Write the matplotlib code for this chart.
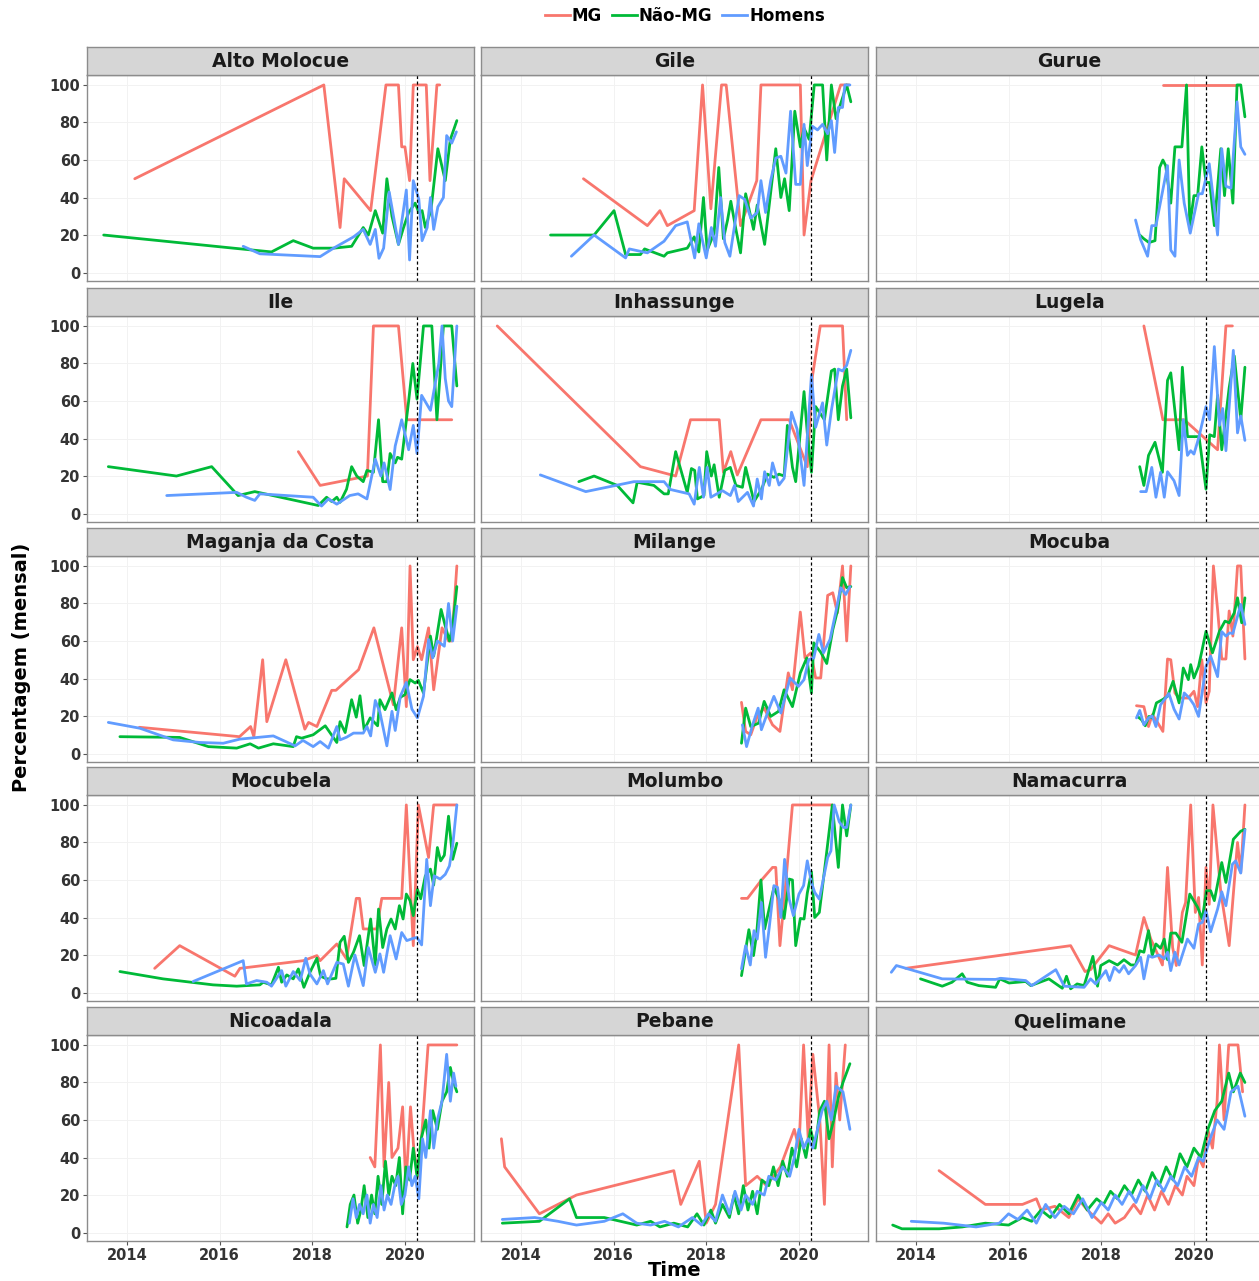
import matplotlib
matplotlib.use("Agg")
import matplotlib.pyplot as plt
from matplotlib.lines import Line2D

plt.rcParams['font.family'] = ['DejaVu Sans']

# | Data: (decimal year, percentage) per group |---------------------------------------------------------------------|
SERIES = ["MG", "Não-MG", "Homens"]
COLORS = {"MG": "#F8766D", "Não-MG": "#00BA38", "Homens": "#619CFF"}
LOCKDOWN = 2020.25
X_TICKS = [2014, 2016, 2018, 2020]
Y_TICKS = [0, 20, 40, 60, 80, 100]

ALTO_MOLOCUE = {
    "MG": [(2014.17, 50), (2018.25, 100), (2018.6, 24), (2018.69, 50), (2019.26, 33), (2019.59, 100), (2019.86, 100),
           (2019.93, 67), (2020.0, 67), (2020.1, 49), (2020.18, 100), (2020.46, 100), (2020.54, 49), (2020.69, 100),
           (2020.75, 100)],
    "Não-MG": [(2013.5, 20), (2016.3, 13), (2017.12, 11), (2017.59, 17), (2018.02, 13), (2018.46, 13), (2018.85, 14),
               (2019.1, 24), (2019.21, 20), (2019.36, 33), (2019.52, 21), (2019.61, 50), (2019.72, 30), (2019.86, 15),
               (2019.97, 24), (2020.08, 32), (2020.22, 37), (2020.3, 32), (2020.37, 33), (2020.44, 24), (2020.56, 33),
               (2020.71, 66), (2020.87, 49), (2020.98, 71), (2021.12, 81)],
    "Homens": [(2016.51, 14), (2016.87, 10), (2018.17, 8.5), (2018.46, 13), (2018.89, 19), (2019.1, 23), (2019.25, 15),
               (2019.36, 23), (2019.44, 7.6), (2019.54, 13), (2019.66, 43), (2019.86, 15), (2020.03, 44), (2020.1, 6.7),
               (2020.18, 49), (2020.3, 39), (2020.37, 17), (2020.48, 24), (2020.55, 40), (2020.62, 23), (2020.71, 35),
               (2020.83, 40), (2020.9, 73), (2021.01, 69), (2021.11, 75)],
}

GILE = {
    "MG": [(2015.35, 50), (2016.73, 25), (2017.0, 33), (2017.16, 25), (2017.74, 33), (2017.92, 100), (2018.1, 34),
           (2018.33, 100), (2018.43, 100), (2018.74, 25), (2019.09, 49), (2019.18, 100), (2020.03, 100), (2020.11, 20),
           (2020.26, 49), (2020.9, 100), (2021.08, 100)],
    "Não-MG": [(2014.64, 20), (2015.58, 20), (2016.01, 33), (2016.26, 9.6), (2016.58, 9.6), (2016.67, 12.6),
               (2017.09, 8.7), (2017.16, 10.5), (2017.59, 13), (2017.74, 19), (2017.84, 11), (2017.94, 40), (2018.02, 12),
               (2018.17, 21), (2018.27, 56), (2018.37, 18), (2018.46, 28), (2018.53, 38), (2018.64, 23), (2018.74, 10.5),
               (2018.85, 42), (2019.02, 23), (2019.1, 36), (2019.26, 15), (2019.5, 66), (2019.61, 40), (2019.69, 50),
               (2019.79, 33), (2019.91, 86), (2020.03, 67), (2020.11, 77), (2020.22, 71), (2020.33, 100), (2020.51, 100),
               (2020.6, 60), (2020.7, 100), (2020.8, 82), (2020.9, 90), (2021.03, 100), (2021.12, 91)],
    "Homens": [(2015.09, 8.7), (2015.58, 20), (2016.26, 7.8), (2016.34, 12.6), (2016.73, 10.5), (2017.09, 16.7),
               (2017.34, 25), (2017.59, 27), (2017.75, 7.8), (2017.84, 26), (2018.0, 7.8), (2018.11, 24), (2018.2, 14),
               (2018.31, 40), (2018.4, 16), (2018.51, 8.7), (2018.71, 41), (2018.83, 39), (2018.96, 29), (2019.1, 32),
               (2019.18, 49), (2019.28, 32), (2019.39, 49), (2019.5, 61), (2019.61, 62), (2019.72, 53), (2019.82, 86),
               (2019.93, 47), (2020.03, 47), (2020.11, 79), (2020.18, 57), (2020.29, 78), (2020.4, 76), (2020.51, 79),
               (2020.62, 74), (2020.7, 81), (2020.77, 64), (2020.85, 88), (2020.94, 88), (2020.99, 100), (2021.1, 100)],
}

GURUE = {
    "MG": [(2019.33, 100), (2020.94, 100)],
    "Não-MG": [(2018.83, 20), (2018.92, 18), (2019.03, 16), (2019.16, 17), (2019.26, 56), (2019.33, 60), (2019.39, 57),
               (2019.5, 37), (2019.59, 67), (2019.74, 67), (2019.84, 100), (2019.91, 25), (2020.0, 41), (2020.08, 41),
               (2020.17, 67), (2020.26, 48), (2020.34, 48), (2020.44, 25), (2020.58, 66), (2020.66, 41), (2020.74, 66),
               (2020.84, 37), (2020.93, 100), (2021.01, 100), (2021.1, 83)],
    "Homens": [(2018.74, 28), (2018.85, 17.5), (2019.0, 8.7), (2019.09, 25), (2019.18, 25), (2019.43, 57), (2019.5, 12),
               (2019.59, 8.7), (2019.68, 60), (2019.79, 37), (2019.92, 21), (2020.1, 42), (2020.18, 42), (2020.33, 58),
               (2020.51, 20), (2020.6, 66), (2020.69, 46), (2020.8, 45), (2020.93, 91), (2021.01, 67), (2021.1, 63)],
}

ILE = {
    "MG": [(2017.7, 33), (2018.17, 15), (2019.19, 20), (2019.32, 100), (2019.86, 100), (2020.04, 50), (2021.01, 50)],
    "Não-MG": [(2013.6, 25), (2015.07, 20), (2015.83, 25), (2016.4, 9.6), (2016.76, 11.7), (2018.13, 4.3),
               (2018.31, 8.7), (2018.42, 6.4), (2018.53, 8.7), (2018.6, 6), (2018.74, 13), (2018.85, 25), (2018.96, 20),
               (2019.1, 17), (2019.18, 23), (2019.32, 22), (2019.43, 50), (2019.52, 17), (2019.61, 17), (2019.68, 32),
               (2019.79, 27), (2019.84, 30), (2019.93, 29), (2020.08, 60), (2020.17, 80), (2020.26, 61), (2020.4, 100),
               (2020.58, 100), (2020.69, 50), (2020.83, 100), (2021.01, 100), (2021.12, 68)],
    "Homens": [(2014.86, 9.6), (2016.37, 11.3), (2016.58, 8.7), (2016.76, 7), (2016.87, 10.5), (2018.02, 8.7),
               (2018.2, 4), (2018.35, 7.8), (2018.53, 5), (2018.81, 9.6), (2018.99, 10.5), (2019.18, 7.8), (2019.36, 29),
               (2019.48, 20), (2019.55, 27), (2019.68, 12.8), (2019.79, 36), (2019.93, 50), (2020.08, 34), (2020.18, 47),
               (2020.26, 32), (2020.36, 63), (2020.55, 55), (2020.73, 80), (2020.8, 100), (2020.87, 72), (2020.94, 60),
               (2021.01, 57), (2021.12, 100)],
}

INHASSUNGE = {
    "MG": [(2013.49, 100), (2016.58, 25), (2017.34, 20), (2017.66, 50), (2018.28, 50), (2018.37, 22), (2018.53, 33),
           (2018.67, 20.6), (2019.18, 50), (2019.79, 50), (2020.18, 25), (2020.29, 73), (2020.46, 100), (2020.94, 100),
           (2021.03, 50)],
    "Não-MG": [(2015.25, 17), (2015.58, 20), (2016.08, 15), (2016.42, 5.7), (2016.51, 16.7), (2016.87, 15),
               (2017.09, 10.5), (2017.18, 10.5), (2017.34, 33), (2017.59, 11.3), (2017.68, 24), (2017.75, 23),
               (2017.81, 7.8), (2017.95, 9.6), (2018.01, 33), (2018.11, 20), (2018.17, 26), (2018.28, 8.7), (2018.4, 23),
               (2018.52, 24.6), (2018.64, 15), (2018.78, 14), (2018.85, 24.6), (2019.03, 6.4), (2019.19, 12.8),
               (2019.32, 21), (2019.46, 19.3), (2019.57, 21), (2019.68, 20), (2019.75, 47), (2019.86, 24.6),
               (2019.93, 17), (2020.11, 65), (2020.18, 43), (2020.27, 22), (2020.36, 57), (2020.55, 50), (2020.7, 76),
               (2020.77, 77), (2020.85, 50), (2020.94, 68), (2021.03, 77), (2021.12, 51)],
    "Homens": [(2014.42, 20.6), (2015.4, 11.7), (2016.44, 17), (2017.09, 17), (2017.23, 12.8), (2017.63, 10.5),
               (2017.74, 5), (2017.85, 24.6), (2017.94, 8.7), (2018.02, 24.6), (2018.1, 8.7), (2018.35, 12.2),
               (2018.52, 9.6), (2018.61, 15), (2018.69, 6.4), (2018.89, 11.3), (2019.02, 4), (2019.1, 18.4),
               (2019.19, 7.8), (2019.26, 22.3), (2019.36, 15), (2019.43, 27), (2019.57, 15.2), (2019.68, 18.8),
               (2019.84, 54), (2019.96, 45), (2020.11, 15), (2020.27, 74), (2020.36, 46), (2020.51, 59), (2020.6, 36.5),
               (2020.7, 55), (2020.85, 77), (2020.94, 76), (2021.03, 79), (2021.12, 87)],
}

LUGELA = {
    "MG": [(2018.92, 100), (2019.33, 50), (2019.79, 50), (2020.51, 34), (2020.69, 100), (2020.83, 100)],
    "Não-MG": [(2018.83, 25), (2018.92, 15), (2019.02, 31), (2019.16, 38), (2019.32, 22), (2019.43, 71), (2019.5, 75),
               (2019.68, 34), (2019.75, 78), (2019.86, 41), (2020.11, 41), (2020.26, 13), (2020.34, 42), (2020.44, 41),
               (2020.51, 63), (2020.6, 34), (2020.76, 67), (2020.87, 84), (2021.01, 50), (2021.1, 78)],
    "Homens": [(2018.85, 11.7), (2018.97, 11.7), (2019.09, 24.6), (2019.18, 8.7), (2019.28, 22), (2019.36, 8.7),
               (2019.43, 22.3), (2019.57, 17.5), (2019.68, 9.6), (2019.77, 50), (2019.86, 31), (2019.93, 33.5),
               (2020.0, 31.7), (2020.11, 41), (2020.26, 57), (2020.34, 50), (2020.44, 89), (2020.55, 47), (2020.62, 56),
               (2020.69, 33.5), (2020.85, 87), (2020.94, 43), (2021.01, 52), (2021.1, 39)],
}

MAGANJA_DA_COSTA = {
    "MG": [(2014.27, 14), (2016.43, 9), (2016.67, 14.4), (2016.74, 9), (2016.93, 50), (2017.02, 17), (2017.43, 50),
           (2017.84, 13), (2017.92, 16.6), (2018.1, 14.4), (2018.42, 33.7), (2018.51, 33.7), (2019.0, 44.7),
           (2019.33, 67), (2019.75, 26), (2019.93, 67), (2020.03, 25), (2020.11, 100), (2020.18, 50), (2020.27, 57),
           (2020.36, 50), (2020.51, 67), (2020.62, 34), (2020.8, 67), (2020.94, 60), (2021.01, 60), (2021.12, 100)],
    "Não-MG": [(2013.85, 9), (2015.14, 8.6), (2015.76, 3.7), (2016.37, 2.9), (2016.66, 5.2), (2016.84, 2.9),
               (2017.16, 5.2), (2017.59, 3.7), (2017.66, 9), (2017.77, 8.2), (2018.02, 10), (2018.28, 14.8),
               (2018.53, 5.9), (2018.6, 17), (2018.71, 11.2), (2018.85, 28.7), (2018.95, 19.4), (2019.03, 30.8),
               (2019.12, 12.6), (2019.25, 19), (2019.41, 14.8), (2019.46, 28.7), (2019.57, 23.4), (2019.72, 32.3),
               (2019.81, 23.4), (2019.9, 30), (2020.0, 31.4), (2020.11, 39.4), (2020.22, 37.6), (2020.29, 39),
               (2020.4, 32.3), (2020.55, 62.6), (2020.62, 52), (2020.78, 76.8), (2020.87, 68), (2020.96, 60),
               (2021.03, 68), (2021.12, 89)],
    "Homens": [(2013.6, 16.6), (2014.28, 13.5), (2015.0, 7.3), (2015.58, 5.9), (2016.08, 5.5), (2016.44, 7.7),
               (2017.16, 9.4), (2017.63, 4.1), (2017.8, 7), (2018.02, 3.7), (2018.17, 6.4), (2018.35, 2.9),
               (2018.53, 14.4), (2018.6, 7.3), (2018.74, 8.7), (2018.89, 10.9), (2019.1, 10.9), (2019.18, 14.4),
               (2019.26, 9.4), (2019.36, 28.3), (2019.46, 22), (2019.61, 4.1), (2019.72, 22.5), (2019.79, 12.3),
               (2019.9, 30.5), (2020.03, 37.9), (2020.15, 23.7), (2020.27, 19), (2020.4, 30.5), (2020.51, 60.8),
               (2020.6, 51), (2020.7, 60), (2020.85, 57.2), (2020.94, 80), (2021.03, 60), (2021.12, 78.6)],
}

MILANGE = {
    "MG": [(2018.76, 27.3), (2018.85, 11.8), (2018.96, 10), (2019.1, 19.8), (2019.25, 24.2), (2019.43, 15.3),
           (2019.59, 11.8), (2019.77, 43), (2019.86, 34), (2020.03, 75.4), (2020.13, 51), (2020.26, 53.7),
           (2020.36, 40.3), (2020.47, 40.3), (2020.62, 84.3), (2020.73, 85.7), (2020.83, 75), (2020.94, 100),
           (2021.03, 60), (2021.12, 100)],
    "Não-MG": [(2018.76, 5.5), (2018.85, 24.2), (2018.96, 14.4), (2019.13, 16.2), (2019.25, 27.8), (2019.39, 19.8),
               (2019.56, 22.5), (2019.68, 34), (2019.86, 25), (2020.03, 43), (2020.17, 51), (2020.27, 32.3),
               (2020.32, 59), (2020.47, 54), (2020.6, 48), (2020.73, 66), (2020.83, 76), (2020.94, 93.8),
               (2021.03, 88.4), (2021.12, 89)],
    "Homens": [(2018.78, 15.3), (2018.87, 3.7), (2019.0, 15.3), (2019.12, 24.2), (2019.19, 12.7), (2019.32, 21.6),
               (2019.46, 30.5), (2019.61, 21.6), (2019.81, 40.3), (2019.99, 35.8), (2020.11, 39.4), (2020.21, 50),
               (2020.32, 51), (2020.43, 63.5), (2020.53, 53.7), (2020.67, 60.8), (2020.8, 76), (2020.9, 88.4),
               (2021.01, 84.8), (2021.1, 89)],
}

MOCUBA = {
    "MG": [(2018.76, 25.5), (2018.92, 25), (2019.02, 14.4), (2019.1, 20.7), (2019.18, 18), (2019.33, 11.8),
           (2019.43, 50.4), (2019.5, 50), (2019.59, 32.3), (2019.68, 29.6), (2019.88, 29.6), (2020.0, 33.2),
           (2020.08, 25), (2020.17, 50), (2020.26, 27), (2020.33, 33.2), (2020.42, 100), (2020.51, 76.8),
           (2020.6, 50.4), (2020.69, 50.4), (2020.76, 76), (2020.84, 62.6), (2020.94, 100), (2021.01, 100),
           (2021.1, 50.4)],
    "Não-MG": [(2018.78, 19.8), (2018.87, 18), (2018.95, 14.8), (2019.03, 19.8), (2019.1, 19), (2019.19, 27),
               (2019.32, 28.7), (2019.43, 30.5), (2019.55, 38.5), (2019.68, 27), (2019.77, 45.6), (2019.88, 39.4),
               (2019.93, 47.4), (2020.0, 40.3), (2020.1, 46.5), (2020.17, 54.5), (2020.26, 65.2), (2020.4, 53.7),
               (2020.55, 65.2), (2020.67, 70.6), (2020.76, 69.7), (2020.87, 75), (2020.94, 83), (2021.03, 69.7),
               (2021.1, 83)],
    "Homens": [(2018.76, 19), (2018.83, 23), (2018.92, 15.3), (2019.02, 19), (2019.1, 20), (2019.18, 14.4),
               (2019.28, 26), (2019.46, 32), (2019.57, 23.7), (2019.68, 18.4), (2019.79, 32.3), (2019.9, 29.6),
               (2020.0, 26), (2020.1, 19.8), (2020.26, 46.5), (2020.36, 52), (2020.51, 41), (2020.6, 65),
               (2020.69, 62.6), (2020.77, 64.3), (2020.84, 64), (2021.01, 79.5), (2021.1, 68.8)],
}

MOCUBELA = {
    "MG": [(2014.6, 12.9), (2015.14, 25), (2016.33, 8.7), (2016.44, 12.9), (2017.81, 17), (2018.1, 19.7),
           (2018.17, 17), (2018.53, 25.9), (2018.74, 17.9), (2018.95, 50.2), (2019.02, 50.2), (2019.1, 33.9),
           (2019.39, 33.9), (2019.5, 50.2), (2019.93, 50.2), (2020.03, 100), (2020.18, 25), (2020.29, 100),
           (2020.51, 72), (2020.62, 100), (2021.12, 100)],
    "Não-MG": [(2013.85, 11.2), (2014.78, 7.3), (2015.86, 4.1), (2016.37, 3.4), (2016.87, 4.1), (2016.94, 5.5),
               (2017.12, 4.1), (2017.27, 13.5), (2017.34, 5.5), (2017.45, 9.4), (2017.59, 7.3), (2017.7, 12.6),
               (2017.82, 2.8), (2017.95, 10.8), (2018.1, 18.3), (2018.18, 8.7), (2018.31, 7.3), (2018.42, 7.3),
               (2018.51, 7.6), (2018.6, 26.8), (2018.69, 30), (2018.78, 16.1), (2018.89, 21.5), (2019.02, 30.3),
               (2019.12, 14.4), (2019.26, 39.2), (2019.36, 14.7), (2019.43, 44.5), (2019.52, 24), (2019.61, 33.9),
               (2019.7, 39.2), (2019.79, 33.9), (2019.88, 46.3), (2019.96, 39.2), (2020.03, 52.5), (2020.11, 49),
               (2020.18, 41), (2020.27, 55), (2020.34, 50), (2020.44, 62.2), (2020.55, 65.8), (2020.62, 57.3),
               (2020.7, 77.3), (2020.77, 70.2), (2020.85, 73.2), (2020.94, 94), (2021.03, 71), (2021.12, 79.6)],
    "Homens": [(2015.43, 5.9), (2016.51, 17), (2016.58, 4.6), (2016.8, 6.4), (2017.02, 5.5), (2017.12, 3.4),
               (2017.34, 11.7), (2017.43, 3.4), (2017.59, 11.2), (2017.74, 6.4), (2017.86, 18.3), (2017.95, 9.9),
               (2018.1, 4.6), (2018.24, 11.7), (2018.33, 4.6), (2018.53, 16.1), (2018.67, 15.2), (2018.78, 3.4),
               (2018.92, 20), (2019.1, 3.7), (2019.21, 24), (2019.36, 10.8), (2019.46, 20.6), (2019.54, 10.8),
               (2019.68, 30.3), (2019.81, 17.9), (2019.93, 32), (2020.04, 27.7), (2020.18, 28.9), (2020.26, 29.4),
               (2020.36, 25.4), (2020.47, 71), (2020.55, 46.3), (2020.63, 62.2), (2020.76, 60.5), (2020.87, 63),
               (2020.96, 67.5), (2021.03, 78.2), (2021.12, 100)],
}

MOLUMBO = {
    "MG": [(2018.76, 50.2), (2018.89, 50.2), (2019.18, 59.6), (2019.43, 66.7), (2019.5, 66.7), (2019.59, 25),
           (2019.71, 57), (2019.86, 100), (2020.72, 100)],
    "Não-MG": [(2018.76, 9), (2018.83, 19.7), (2018.92, 33.5), (2019.02, 19.7), (2019.09, 32), (2019.18, 60),
               (2019.26, 33.9), (2019.46, 56), (2019.57, 49.8), (2019.68, 39.5), (2019.79, 60.5), (2019.86, 60),
               (2019.93, 25), (2020.03, 39.5), (2020.11, 39.2), (2020.18, 53), (2020.27, 64.4), (2020.34, 40),
               (2020.44, 42.7), (2020.58, 71), (2020.72, 100), (2020.85, 66.7), (2020.94, 100), (2021.03, 83.5),
               (2021.12, 100)],
    "Homens": [(2018.76, 12.6), (2018.85, 25), (2018.95, 14.7), (2019.03, 33), (2019.1, 28.5), (2019.19, 48),
               (2019.28, 18.8), (2019.36, 34.8), (2019.46, 57), (2019.54, 56), (2019.61, 40), (2019.69, 71),
               (2019.79, 49.8), (2019.88, 41), (2020.0, 52.5), (2020.1, 57), (2020.18, 70.2), (2020.27, 58.7),
               (2020.34, 53.4), (2020.44, 49.8), (2020.62, 72), (2020.69, 75.5), (2020.76, 100), (2020.87, 91),
               (2020.96, 88), (2021.03, 88), (2021.12, 100)],
}

NAMACURRA = {
    "MG": [(2013.78, 12.9), (2017.34, 25), (2017.65, 11.2), (2017.77, 12.2), (2018.17, 25), (2018.74, 20),
           (2018.92, 40), (2019.07, 28.5), (2019.32, 14.7), (2019.43, 66.7), (2019.54, 24), (2019.62, 14.4),
           (2019.75, 42.7), (2019.82, 48), (2019.93, 100), (2020.03, 42.7), (2020.1, 50.7), (2020.18, 14.7),
           (2020.26, 66.7), (2020.33, 47), (2020.41, 100), (2020.58, 53.4), (2020.76, 25), (2020.94, 80),
           (2021.01, 64), (2021.1, 100)],
    "Não-MG": [(2014.1, 7.3), (2014.57, 3.4), (2014.78, 5.5), (2015.0, 10), (2015.11, 5.5), (2015.36, 3.7),
               (2015.72, 2.8), (2015.81, 7.3), (2016.01, 5.1), (2016.37, 5.9), (2016.48, 3.7), (2016.87, 7.3),
               (2017.16, 2.3), (2017.25, 8.7), (2017.34, 2), (2017.48, 4.6), (2017.63, 3.7), (2017.82, 19.3),
               (2017.92, 3.4), (2017.99, 14.4), (2018.17, 17), (2018.35, 14.7), (2018.49, 17.5), (2018.64, 14.7),
               (2018.74, 14.7), (2018.83, 22.3), (2018.92, 21.5), (2019.02, 33), (2019.1, 19.7), (2019.18, 25.9),
               (2019.28, 23.6), (2019.36, 28.5), (2019.43, 17.5), (2019.5, 31.7), (2019.61, 31.7), (2019.74, 26.8),
               (2019.91, 52.5), (2020.08, 45.4), (2020.18, 39.2), (2020.27, 54.3), (2020.36, 54.3), (2020.44, 49),
               (2020.6, 69.3), (2020.69, 58.7), (2020.85, 81.7), (2021.01, 86), (2021.1, 87)],
    "Homens": [(2013.47, 10.8), (2013.58, 14.4), (2014.57, 7.3), (2015.72, 7), (2015.83, 7.6), (2016.37, 6.4),
               (2016.5, 3.7), (2017.02, 12.2), (2017.2, 3.4), (2017.63, 2.8), (2017.77, 7.3), (2017.88, 4.6),
               (2018.1, 11.7), (2018.18, 6.4), (2018.28, 13.5), (2018.39, 10.8), (2018.49, 14.4), (2018.59, 10),
               (2018.74, 14.4), (2018.85, 18.8), (2018.92, 7.3), (2019.02, 19.7), (2019.1, 18.8), (2019.25, 20),
               (2019.36, 18), (2019.43, 21.5), (2019.5, 11.7), (2019.59, 21.5), (2019.68, 14.7), (2019.86, 28.5),
               (2020.0, 23.6), (2020.1, 36.5), (2020.18, 37.4), (2020.26, 43.6), (2020.36, 32.4), (2020.51, 44.5),
               (2020.6, 53.7), (2020.69, 46.3), (2020.83, 68.4), (2020.9, 70.2), (2021.01, 63.7), (2021.1, 86.7)],
}

NICOADALA = {
    "MG": [(2019.25, 40), (2019.35, 35), (2019.47, 100), (2019.55, 35), (2019.65, 80), (2019.72, 40), (2019.85, 45),
           (2019.95, 67), (2020.02, 25), (2020.12, 67), (2020.2, 42), (2020.3, 30), (2020.5, 100), (2021.12, 100)],
    "Não-MG": [(2018.75, 3), (2018.82, 15), (2018.9, 20), (2018.98, 5), (2019.05, 12), (2019.12, 25), (2019.2, 8),
               (2019.28, 20), (2019.35, 10), (2019.42, 30), (2019.5, 15), (2019.58, 38), (2019.65, 20), (2019.72, 30),
               (2019.8, 25), (2019.88, 40), (2019.95, 10), (2020.02, 35), (2020.1, 28), (2020.18, 45), (2020.26, 30),
               (2020.35, 50), (2020.45, 60), (2020.52, 45), (2020.6, 65), (2020.7, 55), (2020.8, 70), (2020.9, 75),
               (2020.98, 88), (2021.05, 80), (2021.12, 75)],
    "Homens": [(2018.8, 5), (2018.88, 18), (2018.95, 8), (2019.02, 15), (2019.1, 10), (2019.18, 20), (2019.25, 5),
               (2019.32, 15), (2019.4, 8), (2019.48, 25), (2019.55, 12), (2019.62, 20), (2019.7, 15), (2019.78, 25),
               (2019.85, 30), (2019.92, 15), (2020.0, 20), (2020.08, 35), (2020.15, 25), (2020.22, 30), (2020.3, 18),
               (2020.38, 50), (2020.45, 40), (2020.55, 65), (2020.62, 45), (2020.7, 60), (2020.8, 70), (2020.9, 95),
               (2020.98, 70), (2021.05, 85), (2021.1, 78)],
}

PEBANE = {
    "MG": [(2013.58, 50), (2013.65, 35), (2014.4, 10), (2015.2, 20), (2017.3, 33), (2017.45, 15), (2017.85, 38),
           (2018.0, 5), (2018.2, 15), (2018.7, 100), (2018.85, 25), (2019.1, 30), (2019.3, 25), (2019.6, 35),
           (2019.9, 55), (2020.0, 45), (2020.1, 100), (2020.2, 50), (2020.3, 95), (2020.45, 60), (2020.55, 15),
           (2020.65, 100), (2020.72, 35), (2020.8, 85), (2020.88, 60), (2021.0, 100)],
    "Não-MG": [(2013.6, 5), (2014.4, 6), (2015.05, 18), (2015.2, 8), (2015.8, 8), (2016.5, 4), (2016.8, 6),
               (2017.0, 3), (2017.3, 5), (2017.6, 3), (2017.8, 10), (2017.95, 4), (2018.1, 12), (2018.2, 5),
               (2018.35, 15), (2018.5, 8), (2018.6, 20), (2018.7, 10), (2018.8, 25), (2018.9, 12), (2019.0, 22),
               (2019.1, 10), (2019.2, 28), (2019.35, 25), (2019.45, 35), (2019.55, 25), (2019.65, 38), (2019.75, 30),
               (2019.85, 45), (2019.95, 35), (2020.05, 50), (2020.15, 40), (2020.25, 55), (2020.35, 45),
               (2020.45, 65), (2020.55, 70), (2020.65, 50), (2020.75, 60), (2020.85, 72), (2020.95, 80), (2021.1, 90)],
    "Homens": [(2013.6, 7), (2014.3, 8), (2014.8, 6), (2015.2, 4), (2015.8, 6), (2016.2, 10), (2016.5, 5),
               (2016.8, 4), (2017.1, 6), (2017.4, 3), (2017.7, 8), (2017.9, 4), (2018.05, 10), (2018.2, 6),
               (2018.35, 20), (2018.5, 10), (2018.62, 22), (2018.75, 12), (2018.85, 20), (2019.0, 15), (2019.1, 22),
               (2019.25, 20), (2019.35, 30), (2019.5, 28), (2019.65, 35), (2019.8, 30), (2019.9, 40), (2020.0, 55),
               (2020.1, 45), (2020.2, 50), (2020.3, 45), (2020.4, 55), (2020.5, 65), (2020.6, 70), (2020.7, 60),
               (2020.8, 78), (2020.95, 75), (2021.1, 55)],
}

QUELIMANE = {
    "MG": [(2014.5, 33), (2015.5, 15), (2016.3, 15), (2016.6, 18), (2016.7, 12), (2017.0, 14), (2017.3, 8),
           (2017.5, 18), (2017.7, 12), (2018.0, 5), (2018.15, 10), (2018.3, 5), (2018.5, 8), (2018.7, 15),
           (2018.85, 10), (2019.0, 20), (2019.15, 12), (2019.3, 22), (2019.45, 15), (2019.6, 25), (2019.75, 20),
           (2019.85, 30), (2020.0, 25), (2020.1, 40), (2020.2, 35), (2020.3, 55), (2020.4, 45), (2020.5, 70),
           (2020.55, 100), (2020.65, 60), (2020.75, 100), (2020.95, 100), (2021.05, 75)],
    "Não-MG": [(2013.5, 4), (2013.7, 2), (2014.5, 2), (2015.0, 3), (2015.5, 5), (2016.0, 4), (2016.3, 8),
               (2016.5, 6), (2016.7, 12), (2016.9, 8), (2017.1, 15), (2017.3, 10), (2017.5, 20), (2017.7, 12),
               (2017.9, 18), (2018.05, 15), (2018.2, 22), (2018.35, 18), (2018.5, 25), (2018.65, 20), (2018.8, 28),
               (2018.95, 22), (2019.1, 32), (2019.25, 25), (2019.4, 35), (2019.55, 28), (2019.7, 42), (2019.85, 35),
               (2020.0, 45), (2020.15, 40), (2020.3, 55), (2020.45, 65), (2020.6, 70), (2020.75, 85), (2020.85, 75),
               (2021.0, 85), (2021.1, 80)],
    "Homens": [(2013.9, 6), (2014.6, 5), (2015.3, 3), (2015.8, 5), (2016.0, 10), (2016.2, 7), (2016.4, 12),
               (2016.6, 5), (2016.8, 15), (2017.0, 8), (2017.2, 14), (2017.4, 10), (2017.6, 18), (2017.8, 8),
               (2018.0, 16), (2018.15, 12), (2018.3, 20), (2018.45, 15), (2018.6, 22), (2018.75, 16), (2018.9, 25),
               (2019.05, 18), (2019.2, 28), (2019.35, 22), (2019.5, 30), (2019.65, 25), (2019.8, 35), (2019.95, 30),
               (2020.1, 40), (2020.2, 38), (2020.35, 50), (2020.5, 60), (2020.65, 55), (2020.8, 75), (2020.95, 78),
               (2021.1, 62)],
}

DISTRICTS = [
    ("Alto Molocue", ALTO_MOLOCUE), ("Gile", GILE), ("Gurue", GURUE),
    ("Ile", ILE), ("Inhassunge", INHASSUNGE), ("Lugela", LUGELA),
    ("Maganja da Costa", MAGANJA_DA_COSTA), ("Milange", MILANGE), ("Mocuba", MOCUBA),
    ("Mocubela", MOCUBELA), ("Molumbo", MOLUMBO), ("Namacurra", NAMACURRA),
    ("Nicoadala", NICOADALA), ("Pebane", PEBANE), ("Quelimane", QUELIMANE),
]
# |--------------------------------------------------------------------------------------------------------------------|

W, H = 1259, 1281
COL_LEFT = [87, 481, 876]
ROW_TOP = [75, 316, 556, 795, 1035]
PANEL_W, PANEL_H, STRIP_H = 387, 206, 28

fig = plt.figure(figsize=(W / 100, H / 100), dpi=100)

for i, (name, data) in enumerate(DISTRICTS):
    r, c = divmod(i, 3)
    x0, y0 = COL_LEFT[c], ROW_TOP[r]

    ax = fig.add_axes([x0 / W, 1 - (y0 + PANEL_H) / H, PANEL_W / W, PANEL_H / H])
    ax.set_facecolor("white")
    ax.grid(True, color="#F2F2F2", lw=0.7)
    ax.set_axisbelow(True)
    for s in SERIES:
        t, v = zip(*data[s])
        ax.plot(t, v, color=COLORS[s], lw=2.0, solid_joinstyle="round", solid_capstyle="round")
    ax.axvline(LOCKDOWN, color="black", lw=0.9, ls=(0, (2.5, 2)))

    ax.set_xlim(2013.14, 2021.49)
    ax.set_ylim(-4.5, 105.3)
    ax.set_xticks(X_TICKS)
    ax.set_yticks(Y_TICKS)
    for sp in ax.spines.values():
        sp.set_color("#8C8C8C")
        sp.set_linewidth(1.0)
    ax.tick_params(axis="both", length=3, color="#555555", labelsize=10.5, labelcolor="#333333", pad=2)
    if c != 0:
        ax.tick_params(axis="y", length=0, labelleft=False)
    if r != 4:
        ax.tick_params(axis="x", length=0, labelbottom=False)
    for lab in ax.get_xticklabels() + ax.get_yticklabels():
        lab.set_fontweight("bold")

    sax = fig.add_axes([x0 / W, 1 - y0 / H, PANEL_W / W, STRIP_H / H])
    sax.set_facecolor("#D6D6D6")
    sax.set_xticks([])
    sax.set_yticks([])
    for sp in sax.spines.values():
        sp.set_color("#8C8C8C")
        sp.set_linewidth(1.0)
    sax.text(0.5, 0.47, name, ha="center", va="center", fontsize=13.5, fontweight="bold",
             color="#1A1A1A", transform=sax.transAxes)

fig.text(22 / W, 1 - 667 / H, "Percentagem (mensal)", rotation=90, ha="center", va="center",
         fontsize=14, fontweight="bold")
fig.text(675 / W, 1 - 1270 / H, "Time", ha="center", va="center", fontsize=14, fontweight="bold")

handles = [Line2D([], [], color=COLORS[s], lw=2.0) for s in SERIES]
fig.legend(handles, SERIES, loc="center", bbox_to_anchor=(685 / W, 1 - 16 / H), ncol=3, frameon=False,
           handlelength=1.5, handletextpad=0.1, columnspacing=0.6, prop={"weight": "bold", "size": 12})

fig.savefig("out.png", dpi=100)
